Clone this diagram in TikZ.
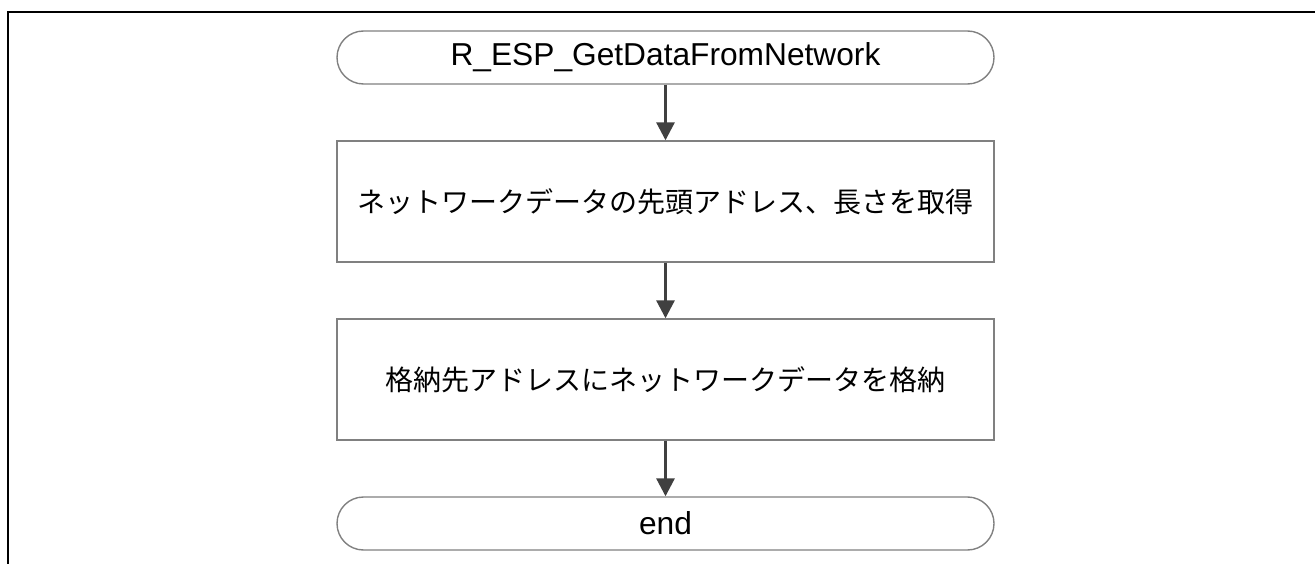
\documentclass[tikz,border=0pt]{standalone}
\usepackage{fontspec}
\setmainfont{Liberation Sans}
\newfontfamily\jp{Noto Sans CJK JP}
\usetikzlibrary{arrows.meta}
\definecolor{boxgray}{HTML}{808080}
\definecolor{arrowgray}{HTML}{404040}
\tikzset{
  term/.style={draw=boxgray, line width=1.4pt, rounded corners=26.5pt,
    minimum width=657pt, minimum height=53pt, inner sep=0pt,
    font=\fontsize{31.7}{38}\selectfont},
  procbox/.style={draw=boxgray, line width=1.4pt,
    minimum width=657pt, minimum height=121pt, inner sep=0pt,
    font=\jp\fontsize{28}{34}\selectfont},
  flow/.style={draw=arrowgray, line width=3pt,
    -{Triangle[length=18pt,width=18pt]}},
  frame/.style={draw=black, line width=2pt}
}
\begin{document}
\begin{tikzpicture}[x=1pt,y=-1pt]
\useasboundingbox (0,0) rectangle (1315,564);
\coordinate (fr1) at (1315,12.5);
\coordinate (fr2) at (8,12.5);
\coordinate (fr3) at (8,564);
\draw[frame] (fr1) -- (fr2) -- (fr3);
\node[term] (start) at (665.5,57.5) {R\_ESP\_GetDataFromNetwork};
\node[procbox] (b1) at (665.5,201.5) {ネットワークデータの先頭アドレス、長さを取得};
\node[procbox] (b2) at (665.5,379.5) {格納先アドレスにネットワークデータを格納};
\node[term] (end) at (665.5,523.5) {end};
\draw[flow] (start) -- (b1);
\draw[flow] (b1) -- (b2);
\draw[flow] (b2) -- (end);
\end{tikzpicture}
\end{document}
